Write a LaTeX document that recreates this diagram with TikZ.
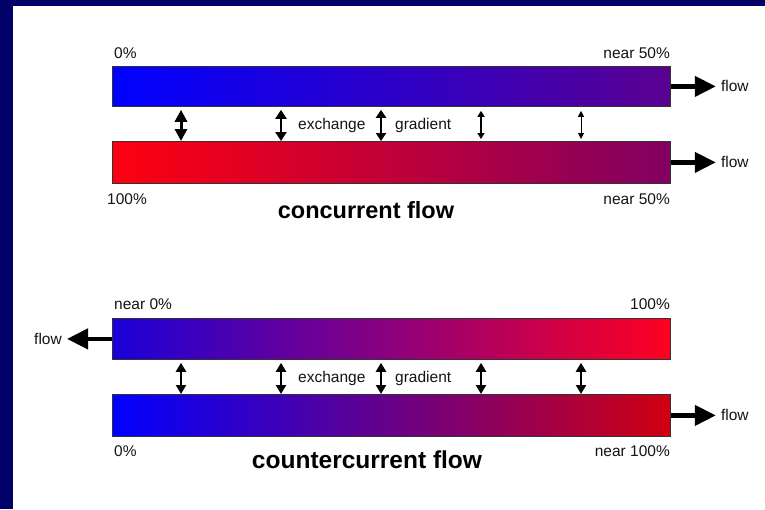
\documentclass[tikz,border=0pt]{standalone}
\usepackage{fontspec}
\setmainfont{Liberation Sans}
\usetikzlibrary{arrows.meta}
\definecolor{frame}{RGB}{0,0,104}
\definecolor{ink}{RGB}{20,20,20}
\tikzset{
  bar/.style={draw=black!80, line width=0.8pt, rectangle, inner sep=0pt,
    minimum width=558pt, anchor=north west, shading angle=90},
  lbl/.style={font=\fontsize{15.5}{18}\selectfont, text=ink, inner sep=0pt},
  ttl/.style={font=\fontsize{23.5}{27}\selectfont\bfseries, inner sep=0pt},
  flowarrow/.style={line width=4.2pt, shorten >=5pt, -{Triangle[length=21pt,width=20pt]}},
  dbl/.style args={#1/#2/#3}{line width=#1, {Triangle[length=#2,width=#3]}-{Triangle[length=#2,width=#3]}},
}
\begin{document}
\begin{tikzpicture}[x=1pt,y=-1pt]
  % frame and page
  \fill[frame] (0,0) rectangle (765,509);
  \fill[white] (13,6) rectangle (765,509);
  \useasboundingbox (0,0) rectangle (765,509);

  % ---- concurrent flow ----
  \node[bar, minimum height=40pt, left color={rgb,255:red,0;green,0;blue,255},
        right color={rgb,255:red,90;green,0;blue,144}] (b1) at (112,66) {};
  \node[bar, minimum height=42pt, left color={rgb,255:red,255;green,0;blue,16},
        right color={rgb,255:red,128;green,0;blue,96}] (b2) at (112,141) {};

  \node[lbl, anchor=base west] (p1) at (114,58) {0\%};
  \node[lbl, anchor=base east] (p2) at (670,58) {near 50\%};
  \node[lbl, anchor=base west] (p3) at (107,204) {100\%};
  \node[lbl, anchor=base east] (p4) at (670,204) {near 50\%};
  \node[ttl, anchor=base] (t1) at (366,218) {concurrent flow};

  \node[lbl, anchor=west] (f1) at ([xshift=50pt]b1.east) {flow};
  \node[lbl, anchor=west] (f2) at ([xshift=50pt]b2.east) {flow};
  \draw[flowarrow] (b1.east) -- (f1.west);
  \draw[flowarrow] (b2.east) -- (f2.west);

  \node[lbl, anchor=west] (e1) at (298,125) {exchange};
  \node[lbl, anchor=west] (g1) at (395,125) {gradient};

  \draw[dbl=3pt/12pt/12pt]  ([yshift=-3pt]b1.south -| 181,0) -- (b2.north -| 181,0);
  \draw[dbl=2.6pt/9pt/11pt] ([yshift=-3pt]b1.south -| 281,0) -- (b2.north -| 281,0);
  \draw[dbl=2.2pt/8pt/10pt] ([yshift=-3pt]b1.south -| 381,0) -- (b2.north -| 381,0);
  \draw[dbl=1.3pt/6pt/7pt]  ([yshift=-4pt]b1.south -| 481,0) -- ([yshift=2pt]b2.north -| 481,0);
  \draw[dbl=1pt/6pt/6pt]    ([yshift=-4pt]b1.south -| 581,0) -- ([yshift=2pt]b2.north -| 581,0);

  % ---- countercurrent flow ----
  \node[bar, minimum height=41pt, left color={rgb,255:red,26;green,0;blue,216},
        middle color={rgb,255:red,154;green,0;blue,180},
        right color={rgb,255:red,255;green,0;blue,32}] (b3) at (112,318) {};
  \node[bar, minimum height=42pt, left color={rgb,255:red,0;green,0;blue,255},
        middle color={rgb,255:red,138;green,0;blue,176},
        right color={rgb,255:red,208;green,0;blue,16}] (b4) at (112,394) {};

  \node[lbl, anchor=base west] (q1) at (114,309) {near 0\%};
  \node[lbl, anchor=base east] (q2) at (670,309) {100\%};
  \node[lbl, anchor=base west] (q3) at (114,456) {0\%};
  \node[lbl, anchor=base east] (q4) at (670,456) {near 100\%};
  \node[ttl, anchor=base, font=\fontsize{24.5}{28}\selectfont\bfseries] (t2) at (367,468) {countercurrent flow};

  \node[lbl, anchor=east] (f3) at ([xshift=-50pt]b3.west) {flow};
  \node[lbl, anchor=west] (f4) at ([xshift=50pt]b4.east) {flow};
  \draw[flowarrow] (b3.west) -- (f3.east);
  \draw[flowarrow] (b4.east) -- (f4.west);

  \node[lbl, anchor=west] (e2) at (298,378) {exchange};
  \node[lbl, anchor=west] (g2) at (395,378) {gradient};

  \foreach \x in {181,281,381,481,581}
    \draw[dbl=2.4pt/9pt/10pt] ([yshift=-3pt]b3.south -| \x,0) -- (b4.north -| \x,0);
\end{tikzpicture}
\end{document}
